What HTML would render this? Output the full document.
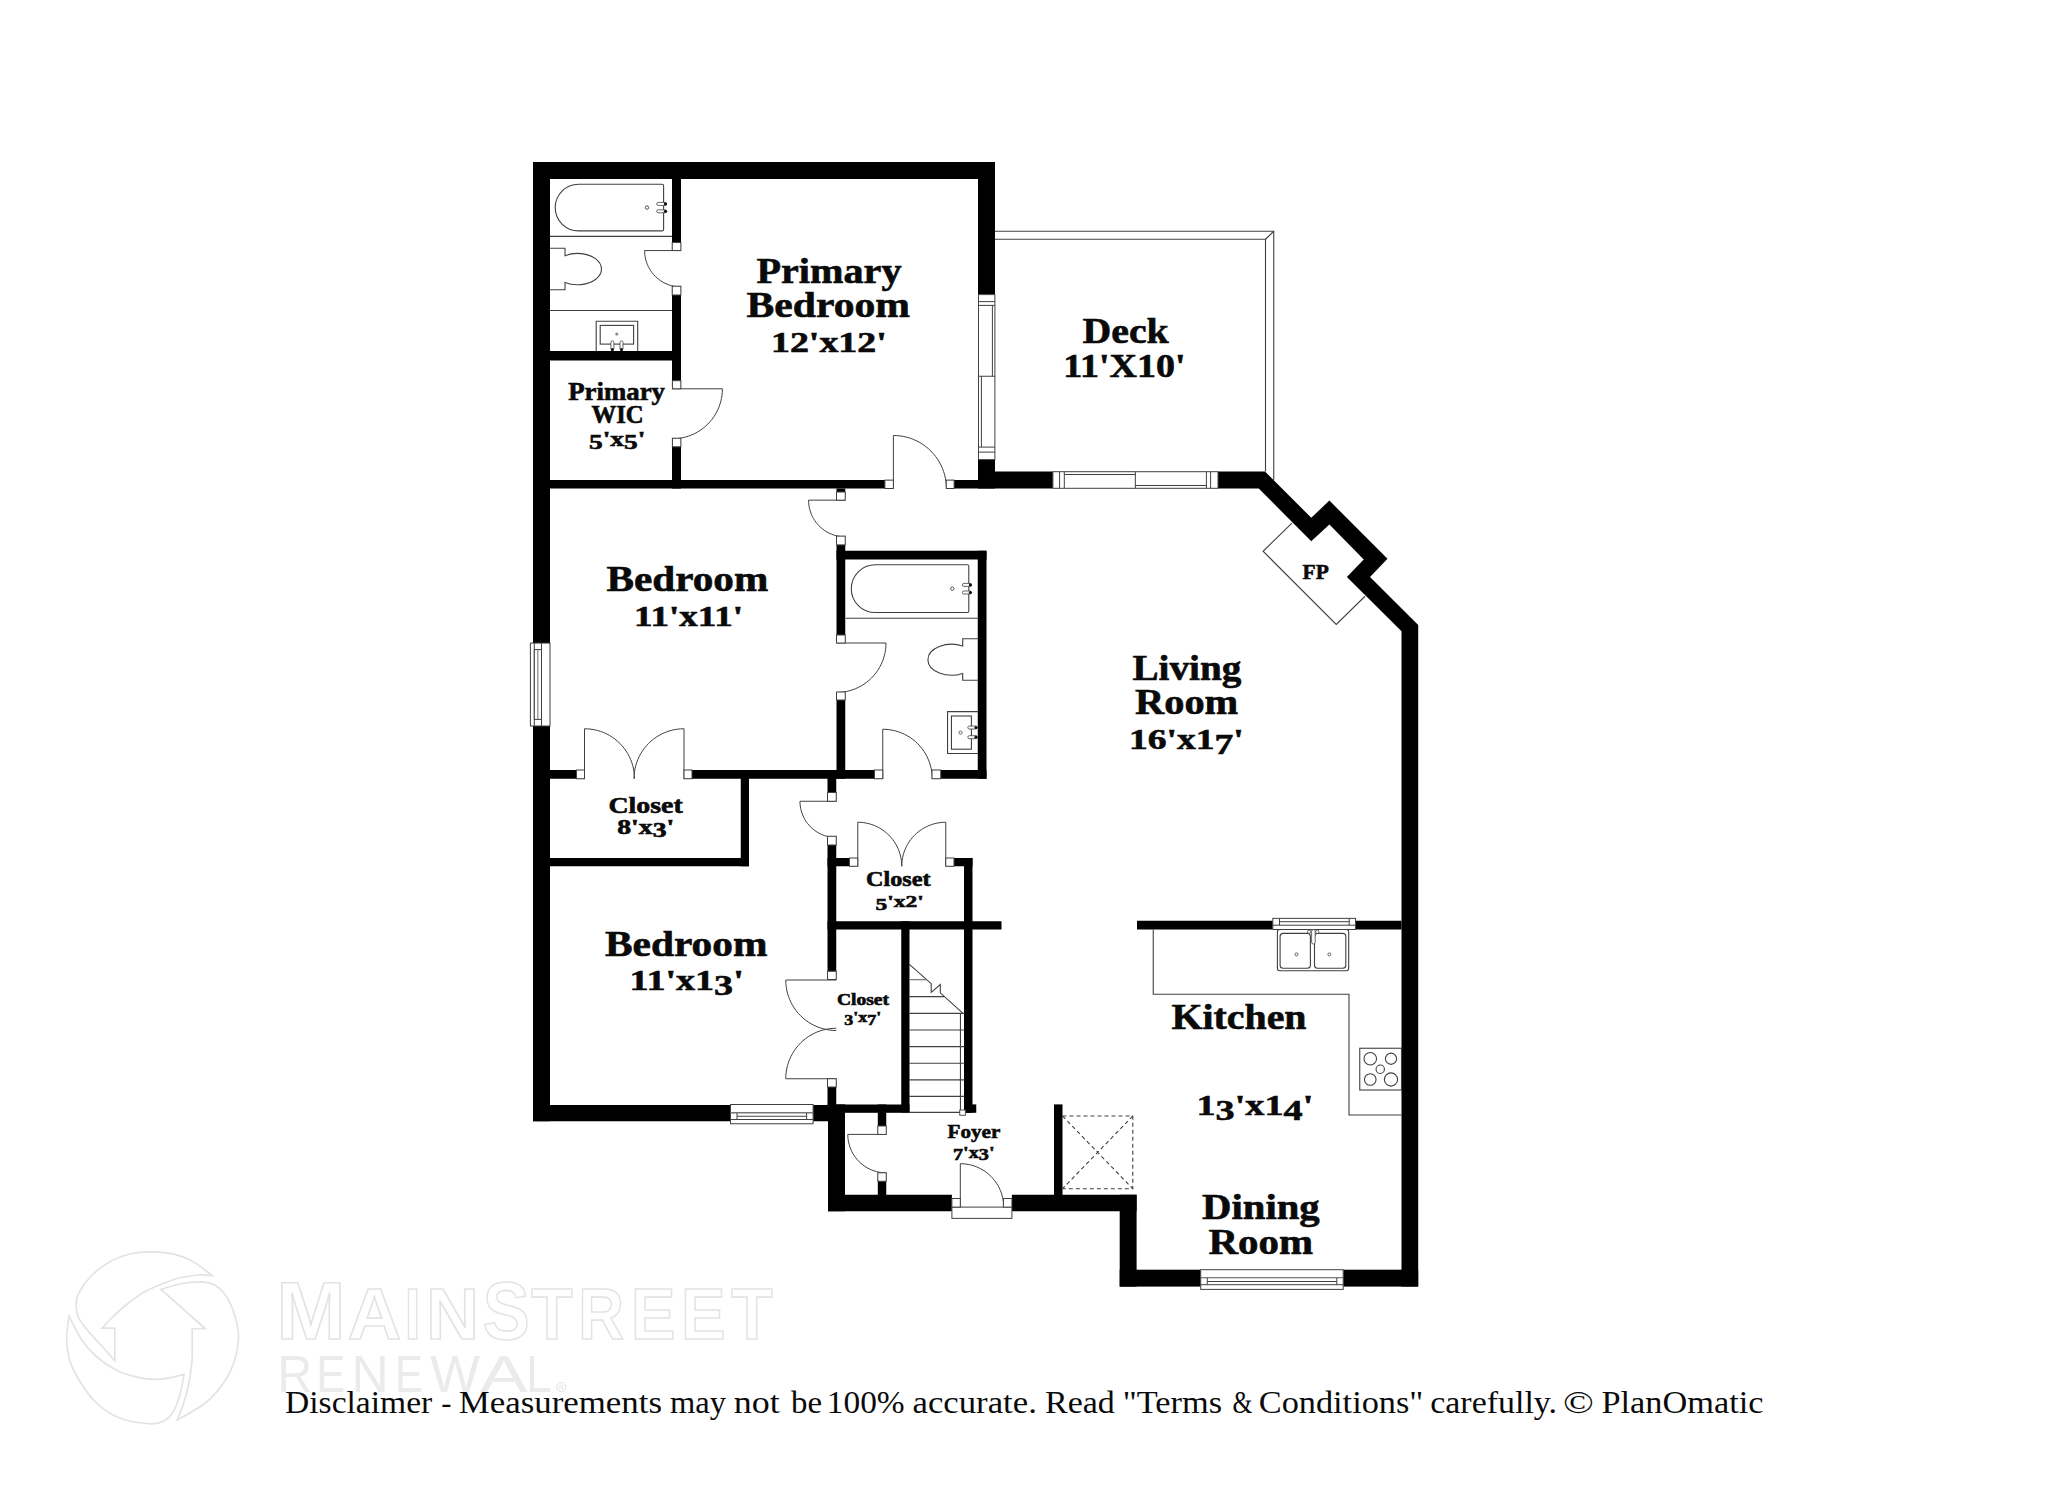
<!DOCTYPE html>
<html><head><meta charset="utf-8"><title>Floor plan</title>
<style>
html,body{margin:0;padding:0;background:#fff;}
body{width:2048px;height:1489px;overflow:hidden;font-family:"Liberation Serif", serif;}
svg{display:block;}
</style></head>
<body>
<svg width="2048" height="1489" viewBox="0 0 2048 1489">
<rect x="0" y="0" width="2048" height="1489" fill="#fff"/>
<rect x="533.00" y="162.00" width="462.00" height="17.00" fill="#000"/>
<rect x="533.00" y="162.00" width="17.00" height="959.25" fill="#000"/>
<rect x="978.00" y="162.00" width="17.00" height="326.50" fill="#000"/>
<rect x="978.00" y="471.50" width="239.50" height="17.00" fill="#000"/>
<path d="M1217.5,471.5 L1265,471.5 L1311.25,517.75 L1329.4,500.6 L1387.5,558.75 L1370,576.9 L1418.2,625 L1418.2,1286.6 L1401.5,1286.6 L1401.5,631.25 L1346.9,576.9 L1363.75,559.4 L1329.4,524.4 L1311.25,541.25 L1258.75,488.5 L1217.5,488.5 Z" fill="#000"/>
<rect x="1119.70" y="1269.70" width="298.50" height="16.90" fill="#000"/>
<rect x="1119.70" y="1194.75" width="16.90" height="91.85" fill="#000"/>
<rect x="828.00" y="1194.75" width="308.60" height="16.50" fill="#000"/>
<rect x="828.00" y="1104.40" width="17.00" height="106.85" fill="#000"/>
<rect x="533.00" y="1105.00" width="312.00" height="16.25" fill="#000"/>
<rect x="672.00" y="179.00" width="9.00" height="309.50" fill="#000"/>
<rect x="550.00" y="351.00" width="122.00" height="9.50" fill="#000"/>
<rect x="550.00" y="480.00" width="428.00" height="8.50" fill="#000"/>
<rect x="836.50" y="488.50" width="8.75" height="290.25" fill="#000"/>
<rect x="836.50" y="550.75" width="150.00" height="8.75" fill="#000"/>
<rect x="977.75" y="550.75" width="8.75" height="228.00" fill="#000"/>
<rect x="550.00" y="770.00" width="436.50" height="8.75" fill="#000"/>
<rect x="740.75" y="770.00" width="8.25" height="96.25" fill="#000"/>
<rect x="550.00" y="858.00" width="199.00" height="8.25" fill="#000"/>
<rect x="827.50" y="770.00" width="8.75" height="342.50" fill="#000"/>
<rect x="827.50" y="858.00" width="145.00" height="8.25" fill="#000"/>
<rect x="964.00" y="858.00" width="8.50" height="254.80" fill="#000"/>
<rect x="827.50" y="921.25" width="174.00" height="8.25" fill="#000"/>
<rect x="901.25" y="921.25" width="8.25" height="191.25" fill="#000"/>
<rect x="827.50" y="1104.50" width="82.00" height="8.30" fill="#000"/>
<rect x="964.00" y="1104.40" width="12.25" height="8.40" fill="#000"/>
<rect x="877.80" y="1104.50" width="8.45" height="90.50" fill="#000"/>
<rect x="1054.00" y="1104.40" width="8.50" height="90.60" fill="#000"/>
<rect x="1137.00" y="920.75" width="264.50" height="8.75" fill="#000"/>
<rect x="670.90" y="250.55" width="11.20" height="35.65" fill="#fff"/>
<path d="M681.00,250.55 L644.60,250.55 L644.68,252.93 L644.91,255.30 L645.30,257.65 L645.84,259.97 L646.53,262.25 L647.37,264.48 L648.35,266.65 L649.48,268.75 L650.73,270.77 L652.12,272.71 L653.63,274.55 L655.26,276.29 L657.00,277.92 L658.84,279.43 L660.78,280.82 L662.80,282.07 L664.90,283.20 L667.07,284.18 L669.30,285.02 L671.58,285.71 L673.90,286.25 L676.25,286.64 L678.62,286.87 L681.00,286.95" fill="none" stroke="#404040" stroke-width="1.0" />
<rect x="672.20" y="242.50" width="8.70" height="8.05" fill="#fff" stroke="#404040" stroke-width="1.0"/>
<rect x="672.20" y="286.20" width="8.70" height="8.80" fill="#fff" stroke="#404040" stroke-width="1.0"/>
<rect x="670.90" y="388.80" width="11.20" height="49.40" fill="#fff"/>
<path d="M672.40,388.80 L722.40,388.80 L722.29,392.07 L721.97,395.33 L721.44,398.55 L720.70,401.74 L719.75,404.87 L718.59,407.93 L717.24,410.91 L715.70,413.80 L713.97,416.58 L712.07,419.24 L709.99,421.77 L707.76,424.16 L705.37,426.39 L702.84,428.47 L700.18,430.37 L697.40,432.10 L694.51,433.64 L691.53,434.99 L688.47,436.15 L685.34,437.10 L682.15,437.84 L678.93,438.37 L675.67,438.69 L672.40,438.80" fill="none" stroke="#404040" stroke-width="1.0" />
<rect x="672.40" y="380.70" width="8.50" height="8.10" fill="#fff" stroke="#404040" stroke-width="1.0"/>
<rect x="672.40" y="438.20" width="8.50" height="8.60" fill="#fff" stroke="#404040" stroke-width="1.0"/>
<rect x="893.40" y="478.90" width="52.85" height="10.70" fill="#fff"/>
<path d="M893.40,488.50 L893.40,435.50 L896.87,435.61 L900.32,435.95 L903.74,436.52 L907.12,437.31 L910.44,438.31 L913.68,439.53 L916.84,440.97 L919.90,442.60 L922.85,444.43 L925.66,446.45 L928.35,448.65 L930.88,451.02 L933.25,453.55 L935.45,456.24 L937.47,459.05 L939.30,462.00 L940.93,465.06 L942.37,468.22 L943.59,471.46 L944.59,474.78 L945.38,478.16 L945.95,481.58 L946.29,485.03 L946.40,488.50" fill="none" stroke="#404040" stroke-width="1.0" />
<rect x="884.90" y="480.10" width="8.50" height="8.40" fill="#fff" stroke="#404040" stroke-width="1.0"/>
<rect x="946.25" y="480.10" width="7.85" height="8.40" fill="#fff" stroke="#404040" stroke-width="1.0"/>
<rect x="835.40" y="500.15" width="11.20" height="35.95" fill="#fff"/>
<path d="M845.25,500.15 L808.55,500.15 L808.63,502.55 L808.86,504.94 L809.26,507.31 L809.80,509.65 L810.50,511.95 L811.34,514.19 L812.33,516.38 L813.47,518.50 L814.74,520.54 L816.13,522.49 L817.66,524.35 L819.30,526.10 L821.05,527.74 L822.91,529.27 L824.86,530.66 L826.90,531.93 L829.02,533.07 L831.21,534.06 L833.45,534.90 L835.75,535.60 L838.09,536.14 L840.46,536.54 L842.85,536.77 L845.25,536.85" fill="none" stroke="#404040" stroke-width="1.0" />
<rect x="836.50" y="492.00" width="8.75" height="8.15" fill="#fff" stroke="#404040" stroke-width="1.0"/>
<rect x="836.50" y="536.10" width="8.75" height="8.80" fill="#fff" stroke="#404040" stroke-width="1.0"/>
<rect x="835.40" y="643.00" width="11.20" height="49.00" fill="#fff"/>
<path d="M836.50,643.00 L886.00,643.00 L885.89,646.24 L885.58,649.46 L885.05,652.66 L884.31,655.81 L883.37,658.91 L882.23,661.94 L880.90,664.89 L879.37,667.75 L877.66,670.50 L875.77,673.13 L873.72,675.64 L871.50,678.00 L869.14,680.22 L866.63,682.27 L864.00,684.16 L861.25,685.87 L858.39,687.40 L855.44,688.73 L852.41,689.87 L849.31,690.81 L846.16,691.55 L842.96,692.08 L839.74,692.39 L836.50,692.50" fill="none" stroke="#404040" stroke-width="1.0" />
<rect x="836.50" y="635.00" width="8.75" height="8.00" fill="#fff" stroke="#404040" stroke-width="1.0"/>
<rect x="836.50" y="692.00" width="8.75" height="8.00" fill="#fff" stroke="#404040" stroke-width="1.0"/>
<rect x="584.50" y="768.90" width="99.50" height="10.95" fill="#fff"/>
<path d="M584.50,778.75 L584.50,728.75 L587.77,728.86 L591.03,729.18 L594.25,729.71 L597.44,730.45 L600.57,731.40 L603.63,732.56 L606.61,733.91 L609.50,735.45 L612.28,737.18 L614.94,739.08 L617.47,741.16 L619.86,743.39 L622.09,745.78 L624.17,748.31 L626.07,750.97 L627.80,753.75 L629.34,756.64 L630.69,759.62 L631.85,762.68 L632.80,765.81 L633.54,769.00 L634.07,772.22 L634.39,775.48 L634.50,778.75" fill="none" stroke="#404040" stroke-width="1.0" />
<path d="M684.00,778.75 L684.00,728.75 L680.73,728.86 L677.47,729.18 L674.25,729.71 L671.06,730.45 L667.93,731.40 L664.87,732.56 L661.89,733.91 L659.00,735.45 L656.22,737.18 L653.56,739.08 L651.03,741.16 L648.64,743.39 L646.41,745.78 L644.33,748.31 L642.43,750.97 L640.70,753.75 L639.16,756.64 L637.81,759.62 L636.65,762.68 L635.70,765.81 L634.96,769.00 L634.43,772.22 L634.11,775.48 L634.00,778.75" fill="none" stroke="#404040" stroke-width="1.0" />
<rect x="576.50" y="770.00" width="8.00" height="8.75" fill="#fff" stroke="#404040" stroke-width="1.0"/>
<rect x="684.00" y="770.00" width="8.00" height="8.75" fill="#fff" stroke="#404040" stroke-width="1.0"/>
<rect x="882.75" y="768.90" width="49.25" height="10.95" fill="#fff"/>
<path d="M882.75,778.75 L882.75,729.25 L885.99,729.36 L889.21,729.67 L892.41,730.20 L895.56,730.94 L898.66,731.88 L901.69,733.02 L904.64,734.35 L907.50,735.88 L910.25,737.59 L912.88,739.48 L915.39,741.53 L917.75,743.75 L919.97,746.11 L922.02,748.62 L923.91,751.25 L925.62,754.00 L927.15,756.86 L928.48,759.81 L929.62,762.84 L930.56,765.94 L931.30,769.09 L931.83,772.29 L932.14,775.51 L932.25,778.75" fill="none" stroke="#404040" stroke-width="1.0" />
<rect x="874.50" y="770.00" width="8.25" height="8.75" fill="#fff" stroke="#404040" stroke-width="1.0"/>
<rect x="932.00" y="770.00" width="8.75" height="8.75" fill="#fff" stroke="#404040" stroke-width="1.0"/>
<rect x="826.40" y="801.25" width="11.20" height="35.00" fill="#fff"/>
<path d="M836.25,801.25 L799.95,801.25 L800.03,803.62 L800.26,805.99 L800.65,808.33 L801.19,810.65 L801.88,812.92 L802.71,815.14 L803.69,817.31 L804.81,819.40 L806.07,821.42 L807.45,823.35 L808.96,825.18 L810.58,826.92 L812.32,828.54 L814.15,830.05 L816.08,831.43 L818.10,832.69 L820.19,833.81 L822.36,834.79 L824.58,835.62 L826.85,836.31 L829.17,836.85 L831.51,837.24 L833.88,837.47 L836.25,837.55" fill="none" stroke="#404040" stroke-width="1.0" />
<rect x="827.50" y="792.50" width="8.75" height="8.75" fill="#fff" stroke="#404040" stroke-width="1.0"/>
<rect x="827.50" y="836.25" width="8.75" height="8.75" fill="#fff" stroke="#404040" stroke-width="1.0"/>
<rect x="857.75" y="856.90" width="88.00" height="10.45" fill="#fff"/>
<path d="M857.75,866.25 L857.75,822.25 L860.63,822.34 L863.49,822.63 L866.33,823.10 L869.14,823.75 L871.89,824.59 L874.59,825.60 L877.21,826.79 L879.75,828.14 L882.20,829.67 L884.54,831.34 L886.76,833.17 L888.86,835.14 L890.83,837.24 L892.66,839.46 L894.33,841.80 L895.86,844.25 L897.21,846.79 L898.40,849.41 L899.41,852.11 L900.25,854.86 L900.90,857.67 L901.37,860.51 L901.66,863.37 L901.75,866.25" fill="none" stroke="#404040" stroke-width="1.0" />
<path d="M945.75,866.25 L945.75,822.25 L942.87,822.34 L940.01,822.63 L937.17,823.10 L934.36,823.75 L931.61,824.59 L928.91,825.60 L926.29,826.79 L923.75,828.14 L921.30,829.67 L918.96,831.34 L916.74,833.17 L914.64,835.14 L912.67,837.24 L910.84,839.46 L909.17,841.80 L907.64,844.25 L906.29,846.79 L905.10,849.41 L904.09,852.11 L903.25,854.86 L902.60,857.67 L902.13,860.51 L901.84,863.37 L901.75,866.25" fill="none" stroke="#404040" stroke-width="1.0" />
<rect x="849.50" y="858.00" width="8.25" height="8.25" fill="#fff" stroke="#404040" stroke-width="1.0"/>
<rect x="945.75" y="858.00" width="8.25" height="8.25" fill="#fff" stroke="#404040" stroke-width="1.0"/>
<rect x="826.40" y="979.50" width="11.20" height="99.25" fill="#fff"/>
<path d="M836.25,980.00 L785.75,980.00 L785.86,983.30 L786.18,986.59 L786.72,989.85 L787.47,993.07 L788.43,996.23 L789.59,999.33 L790.96,1002.34 L792.52,1005.25 L794.26,1008.06 L796.19,1010.74 L798.28,1013.30 L800.54,1015.71 L802.95,1017.97 L805.51,1020.06 L808.19,1021.99 L811.00,1023.73 L813.91,1025.29 L816.92,1026.66 L820.02,1027.82 L823.18,1028.78 L826.40,1029.53 L829.66,1030.07 L832.95,1030.39 L836.25,1030.50" fill="none" stroke="#404040" stroke-width="1.0" />
<path d="M836.25,1078.75 L785.75,1078.75 L785.86,1075.45 L786.18,1072.16 L786.72,1068.90 L787.47,1065.68 L788.43,1062.52 L789.59,1059.42 L790.96,1056.41 L792.52,1053.50 L794.26,1050.69 L796.19,1048.01 L798.28,1045.45 L800.54,1043.04 L802.95,1040.78 L805.51,1038.69 L808.19,1036.76 L811.00,1035.02 L813.91,1033.46 L816.92,1032.09 L820.02,1030.93 L823.18,1029.97 L826.40,1029.22 L829.66,1028.68 L832.95,1028.36 L836.25,1028.25" fill="none" stroke="#404040" stroke-width="1.0" />
<rect x="827.50" y="971.25" width="8.75" height="8.25" fill="#fff" stroke="#404040" stroke-width="1.0"/>
<rect x="827.50" y="1078.75" width="8.75" height="8.25" fill="#fff" stroke="#404040" stroke-width="1.0"/>
<rect x="876.70" y="1134.40" width="10.65" height="38.40" fill="#fff"/>
<path d="M886.25,1134.40 L847.80,1134.40 L847.88,1136.91 L848.13,1139.42 L848.54,1141.90 L849.11,1144.35 L849.84,1146.76 L850.73,1149.11 L851.77,1151.41 L852.95,1153.62 L854.28,1155.76 L855.75,1157.81 L857.34,1159.75 L859.06,1161.59 L860.90,1163.31 L862.84,1164.90 L864.89,1166.37 L867.02,1167.70 L869.24,1168.88 L871.54,1169.92 L873.89,1170.81 L876.30,1171.54 L878.75,1172.11 L881.23,1172.52 L883.74,1172.77 L886.25,1172.85" fill="none" stroke="#404040" stroke-width="1.0" />
<rect x="877.80" y="1126.00" width="8.45" height="8.40" fill="#fff" stroke="#404040" stroke-width="1.0"/>
<rect x="877.80" y="1172.80" width="8.45" height="8.45" fill="#fff" stroke="#404040" stroke-width="1.0"/>
<rect x="951.90" y="1193.70" width="60.00" height="18.60" fill="#fff"/>
<rect x="951.90" y="1207.10" width="60.00" height="11.30" fill="#fff" stroke="#404040" stroke-width="1.0"/>
<path d="M960.30,1207.10 L960.30,1163.70 L963.14,1163.79 L965.96,1164.07 L968.77,1164.53 L971.53,1165.18 L974.25,1166.00 L976.91,1167.00 L979.50,1168.18 L982.00,1169.51 L984.41,1171.01 L986.72,1172.67 L988.92,1174.47 L990.99,1176.41 L992.93,1178.48 L994.73,1180.68 L996.39,1182.99 L997.89,1185.40 L999.22,1187.90 L1000.40,1190.49 L1001.40,1193.15 L1002.22,1195.87 L1002.87,1198.63 L1003.33,1201.44 L1003.61,1204.26 L1003.70,1207.10" fill="none" stroke="#404040" stroke-width="1.0" />
<rect x="951.90" y="1198.50" width="8.40" height="8.60" fill="#fff" stroke="#404040" stroke-width="1.0"/>
<rect x="1003.40" y="1198.50" width="8.50" height="8.60" fill="#fff" stroke="#404040" stroke-width="1.0"/>
<rect x="976.90" y="294.00" width="19.60" height="165.60" fill="#fff"/>
<rect x="978.50" y="294.60" width="16.40" height="165.00" fill="#fff" stroke="#404040" stroke-width="1.0"/>
<line x1="978.50" y1="301.60" x2="994.90" y2="301.60" stroke="#404040" stroke-width="1.0" />
<line x1="978.50" y1="305.40" x2="994.90" y2="305.40" stroke="#404040" stroke-width="1.0" />
<line x1="978.50" y1="447.10" x2="994.90" y2="447.10" stroke="#404040" stroke-width="1.0" />
<line x1="978.50" y1="452.10" x2="994.90" y2="452.10" stroke="#404040" stroke-width="1.0" />
<line x1="978.50" y1="376.25" x2="994.90" y2="376.25" stroke="#404040" stroke-width="1.0" />
<line x1="992.40" y1="305.40" x2="992.40" y2="376.25" stroke="#404040" stroke-width="1.0" />
<line x1="981.40" y1="376.25" x2="981.40" y2="447.10" stroke="#404040" stroke-width="1.0" />
<rect x="1052.90" y="470.40" width="165.10" height="19.20" fill="#fff"/>
<rect x="1052.90" y="471.70" width="165.10" height="16.60" fill="#fff" stroke="#404040" stroke-width="1.0"/>
<line x1="1059.60" y1="471.70" x2="1059.60" y2="488.30" stroke="#404040" stroke-width="1.0" />
<line x1="1064.30" y1="471.70" x2="1064.30" y2="488.30" stroke="#404040" stroke-width="1.0" />
<line x1="1206.40" y1="471.70" x2="1206.40" y2="488.30" stroke="#404040" stroke-width="1.0" />
<line x1="1210.60" y1="471.70" x2="1210.60" y2="488.30" stroke="#404040" stroke-width="1.0" />
<line x1="1135.35" y1="471.70" x2="1135.35" y2="488.30" stroke="#404040" stroke-width="1.0" />
<line x1="1064.30" y1="474.50" x2="1135.35" y2="474.50" stroke="#404040" stroke-width="1.0" />
<line x1="1135.35" y1="485.50" x2="1206.40" y2="485.50" stroke="#404040" stroke-width="1.0" />
<rect x="531.90" y="643.10" width="19.20" height="82.90" fill="#fff"/>
<rect x="530.40" y="643.10" width="19.60" height="82.90" fill="#fff" stroke="#404040" stroke-width="1.0"/>
<line x1="534.30" y1="643.10" x2="534.30" y2="726.00" stroke="#404040" stroke-width="1.0" />
<line x1="541.50" y1="643.10" x2="541.50" y2="726.00" stroke="#404040" stroke-width="1.0" />
<rect x="534.30" y="649.60" width="7.20" height="69.80" fill="#fff" stroke="#404040" stroke-width="1.0"/>
<line x1="537.80" y1="650.00" x2="537.80" y2="719.00" stroke="#888" stroke-width="1.2" />
<rect x="730.50" y="1103.90" width="82.60" height="18.45" fill="#fff"/>
<rect x="730.50" y="1104.50" width="82.60" height="19.25" fill="#fff" stroke="#404040" stroke-width="1.0"/>
<line x1="730.50" y1="1112.80" x2="813.10" y2="1112.80" stroke="#777" stroke-width="1.4" />
<line x1="737.00" y1="1116.25" x2="806.60" y2="1116.25" stroke="#404040" stroke-width="1.0" />
<line x1="730.50" y1="1119.50" x2="813.10" y2="1119.50" stroke="#404040" stroke-width="1.0" />
<line x1="737.00" y1="1113.00" x2="737.00" y2="1119.50" stroke="#404040" stroke-width="1.0" />
<line x1="806.60" y1="1113.00" x2="806.60" y2="1119.50" stroke="#404040" stroke-width="1.0" />
<rect x="1200.70" y="1268.60" width="142.50" height="19.10" fill="#fff"/>
<rect x="1200.70" y="1269.70" width="142.50" height="19.70" fill="#fff" stroke="#404040" stroke-width="1.0"/>
<line x1="1200.70" y1="1277.75" x2="1343.20" y2="1277.75" stroke="#555" stroke-width="1.2" />
<line x1="1207.25" y1="1281.50" x2="1336.80" y2="1281.50" stroke="#404040" stroke-width="1.0" />
<line x1="1200.70" y1="1284.70" x2="1343.20" y2="1284.70" stroke="#404040" stroke-width="1.0" />
<line x1="1207.25" y1="1277.75" x2="1207.25" y2="1284.70" stroke="#404040" stroke-width="1.0" />
<line x1="1336.80" y1="1277.75" x2="1336.80" y2="1284.70" stroke="#404040" stroke-width="1.0" />
<rect x="1272.80" y="919.80" width="82.75" height="10.80" fill="#fff"/>
<rect x="1272.80" y="918.35" width="82.75" height="11.15" fill="#fff" stroke="#404040" stroke-width="1.0"/>
<line x1="1279.50" y1="921.70" x2="1349.20" y2="921.70" stroke="#666" stroke-width="1.3" />
<line x1="1272.80" y1="925.20" x2="1355.55" y2="925.20" stroke="#404040" stroke-width="1.0" />
<line x1="1279.50" y1="918.35" x2="1279.50" y2="925.20" stroke="#404040" stroke-width="1.0" />
<line x1="1349.20" y1="918.35" x2="1349.20" y2="925.20" stroke="#404040" stroke-width="1.0" />
<path d="M578.55,184.20 L662.10,184.20 Q663.60,184.20 663.60,185.70 L663.60,229.40 Q663.60,230.90 662.10,230.90 L578.55,230.90 A23.35,23.35 0 0 1 578.55,184.20 Z" fill="none" stroke="#404040" stroke-width="1.1" />
<circle cx="647.00" cy="207.55" r="1.7" fill="none" stroke="#404040" stroke-width="0.9"/>
<rect x="656.70" y="202.40" width="9.80" height="3" rx="1.5" fill="#fff" stroke="#404040" stroke-width="0.8"/>
<circle cx="665.50" cy="203.90" r="1.6" fill="#111"/>
<rect x="656.70" y="209.80" width="9.80" height="3" rx="1.5" fill="#fff" stroke="#404040" stroke-width="0.8"/>
<circle cx="665.50" cy="211.30" r="1.6" fill="#111"/>
<line x1="550.00" y1="236.40" x2="672.00" y2="236.40" stroke="#404040" stroke-width="1.1" />
<path d="M549.8,248.2 L565,248.2 L565,255.7 A24,15.7 0 1 1 565,282.5 L565,289.8 L549.8,289.8" fill="none" stroke="#404040" stroke-width="1.1" />
<line x1="550.00" y1="310.50" x2="672.00" y2="310.50" stroke="#404040" stroke-width="1.1" />
<path d="M596.2,351 L596.2,321.2 L637.7,321.2 L637.7,351" fill="none" stroke="#404040" stroke-width="1.1" />
<rect x="600.20" y="325.40" width="33.40" height="18.70" fill="none" stroke="#404040" stroke-width="1.1"/>
<circle cx="616.8" cy="334" r="1.6" fill="#888"/>
<rect x="610.90" y="340.9" width="3" height="9" rx="1.5" fill="#fff" stroke="#404040" stroke-width="0.8"/>
<circle cx="612.40" cy="349.6" r="1.6" fill="#111"/>
<rect x="620.00" y="340.9" width="3" height="9" rx="1.5" fill="#fff" stroke="#404040" stroke-width="0.8"/>
<circle cx="621.50" cy="349.6" r="1.6" fill="#111"/>
<path d="M875.15,564.80 L967.30,564.80 Q968.80,564.80 968.80,566.30 L968.80,611.00 Q968.80,612.50 967.30,612.50 L875.15,612.50 A23.85,23.85 0 0 1 875.15,564.80 Z" fill="none" stroke="#404040" stroke-width="1.1" />
<circle cx="952.30" cy="588.65" r="1.7" fill="none" stroke="#404040" stroke-width="0.9"/>
<rect x="962.40" y="583.40" width="9.00" height="3" rx="1.5" fill="#fff" stroke="#404040" stroke-width="0.8"/>
<circle cx="970.40" cy="584.90" r="1.6" fill="#111"/>
<rect x="962.40" y="591.00" width="9.00" height="3" rx="1.5" fill="#fff" stroke="#404040" stroke-width="0.8"/>
<circle cx="970.40" cy="592.50" r="1.6" fill="#111"/>
<line x1="845.50" y1="618.20" x2="978.20" y2="618.20" stroke="#404040" stroke-width="1.1" />
<path d="M978.2,638.7 L962.7,638.7 L962.7,646 A23.8,15.45 0 1 0 962.7,673.4 L962.7,680.3 L978.2,680.3" fill="none" stroke="#404040" stroke-width="1.1" />
<path d="M978.2,711.6 L947.55,711.6 L947.55,753.5 L978.2,753.5" fill="none" stroke="#404040" stroke-width="1.1" />
<rect x="951.45" y="716.00" width="19.95" height="33.20" fill="none" stroke="#404040" stroke-width="1.1"/>
<circle cx="960.5" cy="732.6" r="1.6" fill="none" stroke="#404040" stroke-width="0.8"/>
<rect x="967.8" y="726.00" width="9.3" height="3" rx="1.5" fill="#fff" stroke="#404040" stroke-width="0.8"/>
<circle cx="976" cy="727.50" r="1.6" fill="#111"/>
<rect x="967.8" y="735.70" width="9.3" height="3" rx="1.5" fill="#fff" stroke="#404040" stroke-width="0.8"/>
<circle cx="976" cy="737.20" r="1.6" fill="#111"/>
<path d="M995,231.25 L1273.75,231.25 L1273.75,480" fill="none" stroke="#404040" stroke-width="1.1" />
<path d="M995,239.25 L1265.5,239.25 L1265.5,471.5" fill="none" stroke="#404040" stroke-width="1.1" />
<line x1="1265.50" y1="239.25" x2="1273.75" y2="231.25" stroke="#404040" stroke-width="1.1" />
<path d="M1291.9,523.1 L1263.1,551.25 L1336.25,624.4 L1365,596.25" fill="none" stroke="#404040" stroke-width="1.1" />
<path d="M1153.25,929.5 L1153.25,994.25 L1349,994.25 L1349,1115 L1401.5,1115" fill="none" stroke="#404040" stroke-width="1.1" />
<rect x="1277.4" y="929.5" width="71.3" height="41.25" rx="2.5" fill="#fff" stroke="#404040" stroke-width="1.1"/>
<rect x="1280.1" y="933.4" width="30.3" height="34.9" rx="3" fill="none" stroke="#404040" stroke-width="1.1"/>
<rect x="1314.5" y="933.4" width="31.3" height="34.9" rx="3" fill="none" stroke="#404040" stroke-width="1.1"/>
<circle cx="1296.5" cy="954.4" r="1.5" fill="none" stroke="#404040" stroke-width="0.8"/>
<circle cx="1329.4" cy="954.4" r="1.5" fill="none" stroke="#404040" stroke-width="0.8"/>
<rect x="1311.6" y="929.5" width="3.6" height="14.5" rx="1.8" fill="#fff" stroke="#404040" stroke-width="0.8"/>
<circle cx="1309.2" cy="931.8" r="1.7" fill="#fff" stroke="#404040" stroke-width="0.8"/>
<circle cx="1317.2" cy="931.8" r="1.7" fill="#fff" stroke="#404040" stroke-width="0.8"/>
<rect x="1359.75" y="1048.25" width="41.75" height="41.75" fill="#fff" stroke="#404040" stroke-width="1.1"/>
<circle cx="1370.25" cy="1058.75" r="6.3" fill="none" stroke="#404040" stroke-width="1.1"/>
<circle cx="1391" cy="1058.75" r="5.6" fill="none" stroke="#404040" stroke-width="1.1"/>
<circle cx="1380.25" cy="1069.25" r="4.2" fill="none" stroke="#404040" stroke-width="1.1"/>
<circle cx="1370.25" cy="1079.5" r="5.8" fill="none" stroke="#404040" stroke-width="1.1"/>
<circle cx="1391" cy="1079.5" r="6.6" fill="none" stroke="#404040" stroke-width="1.1"/>
<path d="M1062.5,1116 L1132.8,1116 L1132.8,1188.75 L1062.5,1188.75" fill="none" stroke="#404040" stroke-width="1.1" stroke-dasharray="4,3"/>
<path d="M1062.5,1116 L1132.8,1188.75 M1132.8,1116 L1062.5,1188.75" fill="none" stroke="#404040" stroke-width="1.1" stroke-dasharray="4,3"/>
<path d="M909.1,964.1 L931.2,983.7 L931.2,992.3 L940.3,984.5 L940.3,992.8 L963,1013.4" fill="none" stroke="#404040" stroke-width="1.1" />
<line x1="909.10" y1="979.70" x2="926.20" y2="979.70" stroke="#666" stroke-width="1.1" />
<line x1="909.10" y1="996.60" x2="944.30" y2="996.60" stroke="#404040" stroke-width="1.1" />
<line x1="909.10" y1="1013.40" x2="964.50" y2="1013.40" stroke="#404040" stroke-width="1.1" />
<line x1="909.10" y1="1030.00" x2="964.50" y2="1030.00" stroke="#404040" stroke-width="1.1" />
<line x1="909.10" y1="1046.60" x2="964.50" y2="1046.60" stroke="#404040" stroke-width="1.1" />
<line x1="909.10" y1="1063.20" x2="964.50" y2="1063.20" stroke="#404040" stroke-width="1.1" />
<line x1="909.10" y1="1079.90" x2="964.50" y2="1079.90" stroke="#404040" stroke-width="1.1" />
<line x1="909.10" y1="1096.40" x2="964.50" y2="1096.40" stroke="#404040" stroke-width="1.1" />
<line x1="909.10" y1="1112.40" x2="964.50" y2="1112.40" stroke="#404040" stroke-width="1.1" />
<line x1="960.45" y1="1013.40" x2="960.45" y2="1112.40" stroke="#404040" stroke-width="1.1" />
<rect x="959.75" y="1110.00" width="5.65" height="5.25" fill="#fff" stroke="#404040" stroke-width="0.9"/>
<text x="756.50" y="282.80" font-family="&quot;Liberation Serif&quot;, serif" font-weight="bold" font-size="35.90" fill="#0a0a0a" stroke="#0a0a0a" stroke-width="0.6" textLength="145.00" lengthAdjust="spacingAndGlyphs">Primary</text>
<text x="746.50" y="316.90" font-family="&quot;Liberation Serif&quot;, serif" font-weight="bold" font-size="35.90" fill="#0a0a0a" stroke="#0a0a0a" stroke-width="0.6" textLength="163.52" lengthAdjust="spacingAndGlyphs">Bedroom</text>
<text x="771.00" y="352.00" font-family="&quot;Liberation Serif&quot;, serif" font-weight="bold" font-size="28.50" fill="#0a0a0a" stroke="#0a0a0a" stroke-width="0.6" textLength="115.72" lengthAdjust="spacingAndGlyphs">12&#39;x12&#39;</text>
<text x="568.25" y="400.00" font-family="&quot;Liberation Serif&quot;, serif" font-weight="bold" font-size="24.80" fill="#0a0a0a" stroke="#0a0a0a" stroke-width="0.6" textLength="96.75" lengthAdjust="spacingAndGlyphs">Primary</text>
<text x="591.50" y="423.00" font-family="&quot;Liberation Serif&quot;, serif" font-weight="bold" font-size="24.80" fill="#0a0a0a" stroke="#0a0a0a" stroke-width="0.6" textLength="52.08" lengthAdjust="spacingAndGlyphs">WIC</text>
<text x="589.00" y="445.50" font-family="&quot;Liberation Serif&quot;, serif" font-weight="bold" font-size="21.00" fill="#0a0a0a" stroke="#0a0a0a" stroke-width="0.6" textLength="56.39" lengthAdjust="spacingAndGlyphs"><tspan dy="3.57">5</tspan><tspan dy="-3.57">&#39;</tspan>x<tspan dy="3.57">5</tspan><tspan dy="-3.57">&#39;</tspan></text>
<text x="1082.50" y="343.00" font-family="&quot;Liberation Serif&quot;, serif" font-weight="bold" font-size="35.90" fill="#0a0a0a" stroke="#0a0a0a" stroke-width="0.6" textLength="86.25" lengthAdjust="spacingAndGlyphs">Deck</text>
<text x="1063.25" y="377.00" font-family="&quot;Liberation Serif&quot;, serif" font-weight="bold" font-size="33.00" fill="#0a0a0a" stroke="#0a0a0a" stroke-width="0.6" textLength="122.23" lengthAdjust="spacingAndGlyphs">11&#39;X10&#39;</text>
<text x="1302.50" y="578.75" font-family="&quot;Liberation Serif&quot;, serif" font-weight="bold" font-size="22.00" fill="#0a0a0a" stroke="#0a0a0a" stroke-width="0.6" textLength="26.28" lengthAdjust="spacingAndGlyphs">FP</text>
<text x="606.50" y="591.25" font-family="&quot;Liberation Serif&quot;, serif" font-weight="bold" font-size="35.90" fill="#0a0a0a" stroke="#0a0a0a" stroke-width="0.6" textLength="161.76" lengthAdjust="spacingAndGlyphs">Bedroom</text>
<text x="634.00" y="625.50" font-family="&quot;Liberation Serif&quot;, serif" font-weight="bold" font-size="28.50" fill="#0a0a0a" stroke="#0a0a0a" stroke-width="0.6" textLength="108.96" lengthAdjust="spacingAndGlyphs">11&#39;x11&#39;</text>
<text x="1132.50" y="680.00" font-family="&quot;Liberation Serif&quot;, serif" font-weight="bold" font-size="35.90" fill="#0a0a0a" stroke="#0a0a0a" stroke-width="0.6" textLength="108.75" lengthAdjust="spacingAndGlyphs">Living</text>
<text x="1135.00" y="713.75" font-family="&quot;Liberation Serif&quot;, serif" font-weight="bold" font-size="35.90" fill="#0a0a0a" stroke="#0a0a0a" stroke-width="0.6" textLength="103.25" lengthAdjust="spacingAndGlyphs">Room</text>
<text x="1129.00" y="748.70" font-family="&quot;Liberation Serif&quot;, serif" font-weight="bold" font-size="30.00" fill="#0a0a0a" stroke="#0a0a0a" stroke-width="0.6" textLength="114.72" lengthAdjust="spacingAndGlyphs">16&#39;x1<tspan dy="5.10">7</tspan><tspan dy="-5.10">&#39;</tspan></text>
<text x="608.50" y="813.00" font-family="&quot;Liberation Serif&quot;, serif" font-weight="bold" font-size="23.70" fill="#0a0a0a" stroke="#0a0a0a" stroke-width="0.6" textLength="74.27" lengthAdjust="spacingAndGlyphs">Closet</text>
<text x="617.25" y="833.50" font-family="&quot;Liberation Serif&quot;, serif" font-weight="bold" font-size="20.00" fill="#0a0a0a" stroke="#0a0a0a" stroke-width="0.6" textLength="56.94" lengthAdjust="spacingAndGlyphs">8&#39;x<tspan dy="3.40">3</tspan><tspan dy="-3.40">&#39;</tspan></text>
<text x="866.00" y="885.70" font-family="&quot;Liberation Serif&quot;, serif" font-weight="bold" font-size="21.00" fill="#0a0a0a" stroke="#0a0a0a" stroke-width="0.6" textLength="64.52" lengthAdjust="spacingAndGlyphs">Closet</text>
<text x="875.50" y="906.80" font-family="&quot;Liberation Serif&quot;, serif" font-weight="bold" font-size="17.50" fill="#0a0a0a" stroke="#0a0a0a" stroke-width="0.6" textLength="48.32" lengthAdjust="spacingAndGlyphs"><tspan dy="2.98">5</tspan><tspan dy="-2.98">&#39;</tspan>x2&#39;</text>
<text x="605.00" y="956.25" font-family="&quot;Liberation Serif&quot;, serif" font-weight="bold" font-size="35.90" fill="#0a0a0a" stroke="#0a0a0a" stroke-width="0.6" textLength="162.50" lengthAdjust="spacingAndGlyphs">Bedroom</text>
<text x="629.50" y="990.00" font-family="&quot;Liberation Serif&quot;, serif" font-weight="bold" font-size="30.00" fill="#0a0a0a" stroke="#0a0a0a" stroke-width="0.6" textLength="114.24" lengthAdjust="spacingAndGlyphs">11&#39;x1<tspan dy="5.10">3</tspan><tspan dy="-5.10">&#39;</tspan></text>
<text x="837.00" y="1004.80" font-family="&quot;Liberation Serif&quot;, serif" font-weight="bold" font-size="16.00" fill="#0a0a0a" stroke="#0a0a0a" stroke-width="0.6" textLength="52.02" lengthAdjust="spacingAndGlyphs">Closet</text>
<text x="844.25" y="1022.20" font-family="&quot;Liberation Serif&quot;, serif" font-weight="bold" font-size="14.50" fill="#0a0a0a" stroke="#0a0a0a" stroke-width="0.6" textLength="37.08" lengthAdjust="spacingAndGlyphs"><tspan dy="2.47">3</tspan><tspan dy="-2.47">&#39;</tspan>x<tspan dy="2.47">7</tspan><tspan dy="-2.47">&#39;</tspan></text>
<text x="1171.50" y="1028.75" font-family="&quot;Liberation Serif&quot;, serif" font-weight="bold" font-size="35.90" fill="#0a0a0a" stroke="#0a0a0a" stroke-width="0.6" textLength="135.01" lengthAdjust="spacingAndGlyphs">Kitchen</text>
<text x="1196.50" y="1114.50" font-family="&quot;Liberation Serif&quot;, serif" font-weight="bold" font-size="30.00" fill="#0a0a0a" stroke="#0a0a0a" stroke-width="0.6" textLength="116.77" lengthAdjust="spacingAndGlyphs">1<tspan dy="5.10">3</tspan><tspan dy="-5.10">&#39;</tspan>x1<tspan dy="5.10">4</tspan><tspan dy="-5.10">&#39;</tspan></text>
<text x="947.50" y="1137.75" font-family="&quot;Liberation Serif&quot;, serif" font-weight="bold" font-size="19.50" fill="#0a0a0a" stroke="#0a0a0a" stroke-width="0.6" textLength="52.77" lengthAdjust="spacingAndGlyphs">Foyer</text>
<text x="953.00" y="1157.50" font-family="&quot;Liberation Serif&quot;, serif" font-weight="bold" font-size="17.00" fill="#0a0a0a" stroke="#0a0a0a" stroke-width="0.6" textLength="41.59" lengthAdjust="spacingAndGlyphs"><tspan dy="2.89">7</tspan><tspan dy="-2.89">&#39;</tspan>x<tspan dy="2.89">3</tspan><tspan dy="-2.89">&#39;</tspan></text>
<text x="1202.00" y="1219.00" font-family="&quot;Liberation Serif&quot;, serif" font-weight="bold" font-size="35.90" fill="#0a0a0a" stroke="#0a0a0a" stroke-width="0.6" textLength="117.75" lengthAdjust="spacingAndGlyphs">Dining</text>
<text x="1208.50" y="1253.75" font-family="&quot;Liberation Serif&quot;, serif" font-weight="bold" font-size="35.90" fill="#0a0a0a" stroke="#0a0a0a" stroke-width="0.6" textLength="104.51" lengthAdjust="spacingAndGlyphs">Room</text>
<path d="M212.25,1275.62 C209.12,1273.33 199.75,1265.42 193.50,1261.88 C187.25,1258.33 181.62,1256.04 174.75,1254.38 C167.88,1252.71 159.54,1251.98 152.25,1251.88 C144.96,1251.77 138.29,1251.98 131.00,1253.75 C123.71,1255.52 115.38,1258.54 108.50,1262.50 C101.62,1266.46 94.75,1272.29 89.75,1277.50 C84.75,1282.71 80.79,1289.17 78.50,1293.75 C76.21,1298.33 76.00,1301.04 76.00,1305.00 C76.00,1308.96 76.62,1313.33 78.50,1317.50 C80.38,1321.67 83.71,1325.62 87.25,1330.00 C90.79,1334.38 95.17,1338.65 99.75,1343.75 C104.33,1348.85 112.25,1357.81 114.75,1360.62 L114.75,1328.12 L102.25,1328.12 C103.92,1326.35 108.29,1321.35 112.25,1317.50 C116.21,1313.65 120.79,1309.17 126.00,1305.00 C131.21,1300.83 137.46,1296.04 143.50,1292.50 C149.54,1288.96 156.00,1286.25 162.25,1283.75 C168.50,1281.25 174.75,1278.96 181.00,1277.50 C187.25,1276.04 194.54,1275.31 199.75,1275.00 C204.96,1274.69 210.17,1275.52 212.25,1275.62 Z" fill="none" stroke="#e3e3e3" stroke-width="1.7" />
<path d="M161.00,1289.38 C164.33,1288.44 174.33,1285.00 181.00,1283.75 C187.67,1282.50 195.58,1281.77 201.00,1281.88 C206.42,1281.98 209.75,1282.60 213.50,1284.38 C217.25,1286.15 220.58,1289.06 223.50,1292.50 C226.42,1295.94 228.71,1299.58 231.00,1305.00 C233.29,1310.42 236.00,1319.17 237.25,1325.00 C238.50,1330.83 238.92,1334.17 238.50,1340.00 C238.08,1345.83 237.04,1353.12 234.75,1360.00 C232.46,1366.88 229.54,1374.17 224.75,1381.25 C219.96,1388.33 213.92,1396.04 206.00,1402.50 C198.08,1408.96 182.04,1417.08 177.25,1420.00 C178.29,1417.29 181.62,1409.58 183.50,1403.75 C185.38,1397.92 187.15,1391.46 188.50,1385.00 C189.85,1378.54 191.00,1370.42 191.62,1365.00 C192.25,1359.58 192.15,1354.58 192.25,1352.50 L192.25,1328.75 L205.38,1328.75 L161.00,1289.38 Z" fill="none" stroke="#e3e3e3" stroke-width="1.7" />
<path d="M69.12,1316.25 C68.71,1319.79 66.52,1330.21 66.62,1337.50 C66.73,1344.79 67.56,1352.71 69.75,1360.00 C71.94,1367.29 75.38,1374.17 79.75,1381.25 C84.12,1388.33 89.54,1396.46 96.00,1402.50 C102.46,1408.54 109.75,1413.96 118.50,1417.50 C127.25,1421.04 141.00,1423.12 148.50,1423.75 C156.00,1424.38 159.33,1423.33 163.50,1421.25 C167.67,1419.17 170.79,1415.62 173.50,1411.25 C176.21,1406.88 177.98,1401.15 179.75,1395.00 C181.52,1388.85 183.40,1377.81 184.12,1374.38 C181.52,1375.00 173.60,1377.29 168.50,1378.12 C163.40,1378.96 158.92,1379.58 153.50,1379.38 C148.08,1379.17 142.25,1378.44 136.00,1376.88 C129.75,1375.31 122.67,1373.44 116.00,1370.00 C109.33,1366.56 101.83,1361.46 96.00,1356.25 C90.17,1351.04 85.48,1345.42 81.00,1338.75 C76.52,1332.08 71.10,1320.00 69.12,1316.25 Z" fill="none" stroke="#e3e3e3" stroke-width="1.7" />
<text x="285.00" y="1412.75" font-family="&quot;Liberation Serif&quot;, sans-serif" font-weight="normal" font-size="31.50" fill="#0a0a0a" textLength="147.26" lengthAdjust="spacingAndGlyphs">Disclaimer</text>
<text x="441.25" y="1412.75" font-family="&quot;Liberation Serif&quot;, sans-serif" font-weight="normal" font-size="31.50" fill="#0a0a0a" textLength="10.18" lengthAdjust="spacingAndGlyphs">-</text>
<text x="458.75" y="1412.75" font-family="&quot;Liberation Serif&quot;, sans-serif" font-weight="normal" font-size="31.50" fill="#0a0a0a" textLength="203.27" lengthAdjust="spacingAndGlyphs">Measurements</text>
<text x="670.00" y="1412.75" font-family="&quot;Liberation Serif&quot;, sans-serif" font-weight="normal" font-size="31.50" fill="#0a0a0a" textLength="56.02" lengthAdjust="spacingAndGlyphs">may</text>
<text x="733.75" y="1412.75" font-family="&quot;Liberation Serif&quot;, sans-serif" font-weight="normal" font-size="31.50" fill="#0a0a0a" textLength="46.02" lengthAdjust="spacingAndGlyphs">not</text>
<text x="791.00" y="1412.75" font-family="&quot;Liberation Serif&quot;, sans-serif" font-weight="normal" font-size="31.50" fill="#0a0a0a" textLength="31.03" lengthAdjust="spacingAndGlyphs">be</text>
<text x="826.75" y="1412.75" font-family="&quot;Liberation Serif&quot;, sans-serif" font-weight="normal" font-size="31.50" fill="#0a0a0a" textLength="77.97" lengthAdjust="spacingAndGlyphs">100%</text>
<text x="912.50" y="1412.75" font-family="&quot;Liberation Serif&quot;, sans-serif" font-weight="normal" font-size="31.50" fill="#0a0a0a" textLength="124.34" lengthAdjust="spacingAndGlyphs">accurate.</text>
<text x="1045.00" y="1412.75" font-family="&quot;Liberation Serif&quot;, sans-serif" font-weight="normal" font-size="31.50" fill="#0a0a0a" textLength="69.78" lengthAdjust="spacingAndGlyphs">Read</text>
<text x="1122.75" y="1412.75" font-family="&quot;Liberation Serif&quot;, sans-serif" font-weight="normal" font-size="31.50" fill="#0a0a0a" textLength="99.36" lengthAdjust="spacingAndGlyphs">&quot;Terms</text>
<text x="1232.50" y="1412.75" font-family="&quot;Liberation Serif&quot;, sans-serif" font-weight="normal" font-size="31.50" fill="#0a0a0a" textLength="19.87" lengthAdjust="spacingAndGlyphs">&amp;</text>
<text x="1258.75" y="1412.75" font-family="&quot;Liberation Serif&quot;, sans-serif" font-weight="normal" font-size="31.50" fill="#0a0a0a" textLength="164.57" lengthAdjust="spacingAndGlyphs">Conditions&quot;</text>
<text x="1430.25" y="1412.75" font-family="&quot;Liberation Serif&quot;, sans-serif" font-weight="normal" font-size="31.50" fill="#0a0a0a" textLength="126.82" lengthAdjust="spacingAndGlyphs">carefully.</text>
<text x="1563.00" y="1412.75" font-family="&quot;Liberation Serif&quot;, sans-serif" font-weight="normal" font-size="31.50" fill="#0a0a0a" textLength="30.82" lengthAdjust="spacingAndGlyphs">&#169;</text>
<text x="1601.50" y="1412.75" font-family="&quot;Liberation Serif&quot;, sans-serif" font-weight="normal" font-size="31.50" fill="#0a0a0a" textLength="162.02" lengthAdjust="spacingAndGlyphs">PlanOmatic</text>
<text x="276.25" y="1338.75" font-family="&quot;Liberation Sans&quot;, sans-serif" font-weight="bold" font-size="81.80" fill="none" stroke="#e3e3e3" stroke-width="1.6" textLength="69.23" lengthAdjust="spacingAndGlyphs">M</text>
<text x="347.75" y="1338.75" font-family="&quot;Liberation Sans&quot;, sans-serif" font-weight="bold" font-size="72.70" fill="none" stroke="#e3e3e3" stroke-width="1.6" textLength="53.35" lengthAdjust="spacingAndGlyphs">A</text>
<text x="404.50" y="1338.75" font-family="&quot;Liberation Sans&quot;, sans-serif" font-weight="bold" font-size="72.70" fill="none" stroke="#e3e3e3" stroke-width="1.6" textLength="16.23" lengthAdjust="spacingAndGlyphs">I</text>
<text x="426.00" y="1338.75" font-family="&quot;Liberation Sans&quot;, sans-serif" font-weight="bold" font-size="72.70" fill="none" stroke="#e3e3e3" stroke-width="1.6" textLength="53.10" lengthAdjust="spacingAndGlyphs">N</text>
<text x="482.75" y="1338.75" font-family="&quot;Liberation Sans&quot;, sans-serif" font-weight="bold" font-size="81.80" fill="none" stroke="#e3e3e3" stroke-width="1.6" textLength="46.98" lengthAdjust="spacingAndGlyphs">S</text>
<text x="531.25" y="1338.75" font-family="&quot;Liberation Sans&quot;, sans-serif" font-weight="bold" font-size="72.70" fill="none" stroke="#e3e3e3" stroke-width="1.6" textLength="41.26" lengthAdjust="spacingAndGlyphs">T</text>
<text x="578.25" y="1338.75" font-family="&quot;Liberation Sans&quot;, sans-serif" font-weight="bold" font-size="72.70" fill="none" stroke="#e3e3e3" stroke-width="1.6" textLength="45.78" lengthAdjust="spacingAndGlyphs">R</text>
<text x="631.00" y="1338.75" font-family="&quot;Liberation Sans&quot;, sans-serif" font-weight="bold" font-size="72.70" fill="none" stroke="#e3e3e3" stroke-width="1.6" textLength="44.46" lengthAdjust="spacingAndGlyphs">E</text>
<text x="681.00" y="1338.75" font-family="&quot;Liberation Sans&quot;, sans-serif" font-weight="bold" font-size="72.70" fill="none" stroke="#e3e3e3" stroke-width="1.6" textLength="44.46" lengthAdjust="spacingAndGlyphs">E</text>
<text x="731.25" y="1338.75" font-family="&quot;Liberation Sans&quot;, sans-serif" font-weight="bold" font-size="72.70" fill="none" stroke="#e3e3e3" stroke-width="1.6" textLength="41.26" lengthAdjust="spacingAndGlyphs">T</text>
<text x="277.50" y="1391.90" font-family="&quot;Liberation Sans&quot;, sans-serif" font-weight="normal" font-size="51.20" fill="#ebebeb" textLength="34.72" lengthAdjust="spacingAndGlyphs">R</text>
<text x="316.50" y="1391.90" font-family="&quot;Liberation Sans&quot;, sans-serif" font-weight="normal" font-size="51.20" fill="#ebebeb" textLength="28.47" lengthAdjust="spacingAndGlyphs">E</text>
<text x="351.50" y="1391.90" font-family="&quot;Liberation Sans&quot;, sans-serif" font-weight="normal" font-size="51.20" fill="#ebebeb" textLength="37.21" lengthAdjust="spacingAndGlyphs">N</text>
<text x="395.00" y="1391.90" font-family="&quot;Liberation Sans&quot;, sans-serif" font-weight="normal" font-size="51.20" fill="#ebebeb" textLength="27.87" lengthAdjust="spacingAndGlyphs">E</text>
<text x="430.00" y="1391.90" font-family="&quot;Liberation Sans&quot;, sans-serif" font-weight="normal" font-size="51.20" fill="#ebebeb" textLength="50.01" lengthAdjust="spacingAndGlyphs">W</text>
<text x="480.00" y="1391.90" font-family="&quot;Liberation Sans&quot;, sans-serif" font-weight="normal" font-size="51.20" fill="#ebebeb" textLength="47.51" lengthAdjust="spacingAndGlyphs">A</text>
<text x="526.00" y="1391.90" font-family="&quot;Liberation Sans&quot;, sans-serif" font-weight="normal" font-size="51.20" fill="#ebebeb" textLength="25.66" lengthAdjust="spacingAndGlyphs">L</text>
<circle cx="561.3" cy="1387.1" r="4.6" fill="none" stroke="#e3e3e3" stroke-width="1"/>
<text x="561.3" y="1389.6" font-family="&quot;Liberation Sans&quot;, sans-serif" font-size="7" fill="#e3e3e3" text-anchor="middle">R</text>
</svg>
</body></html>
